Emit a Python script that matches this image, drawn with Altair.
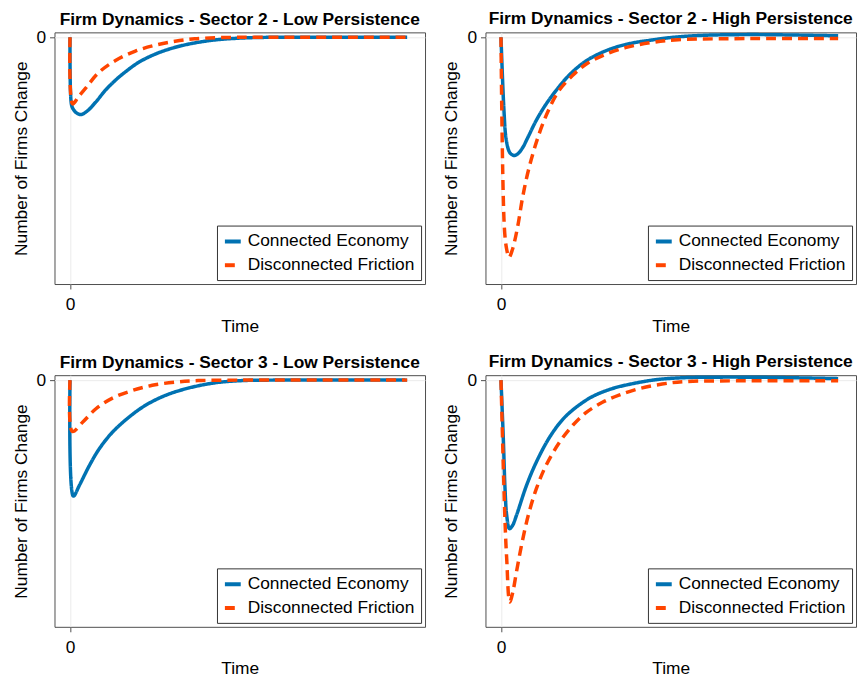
import altair as alt
import pandas as pd

SERIES = ["Connected Economy", "Disconnected Friction"]
COLORS = ["#0072b2", "#ff4500"]

TITLES = [
    "Firm Dynamics - Sector 2 - Low Persistence",
    "Firm Dynamics - Sector 2 - High Persistence",
    "Firm Dynamics - Sector 3 - Low Persistence",
    "Firm Dynamics - Sector 3 - High Persistence",
]

# Panel 1: Sector 2, low persistence
P1_CONN_T = [0, 0.4, 0.9, 1.8, 3.2, 5.0, 7.6, 10.6, 13.0, 15.6, 20.3, 25.3, 30.3, 35, 40, 45, 55, 70, 100]
P1_CONN_V = [0, -0.27, -0.29, -0.305, -0.313, -0.300, -0.263, -0.213, -0.180, -0.149, -0.102, -0.068,
             -0.044, -0.028, -0.016, -0.008, -0.001, 0, 0]
P1_DISC_T = [0, 0.8, 2.5, 4.7, 8.5, 13.5, 19.4, 25.3, 31.2, 37, 45, 55, 100]
P1_DISC_V = [0, -0.27, -0.241, -0.205, -0.143, -0.094, -0.056, -0.032, -0.016, -0.006, -0.001, 0, 0]

# Panel 2: Sector 2, high persistence
P2_CONN_T = [0, 0.9, 1.5, 2.4, 3.0, 3.9, 5.0, 6.4, 8.0, 10.3, 12.7, 15.2, 20.1, 25.1, 30, 34.8, 39.8,
             44.7, 49.6, 54.6, 62, 75, 88, 100]
P2_CONN_V = [0, -0.30, -0.41, -0.462, -0.473, -0.479, -0.472, -0.448, -0.405, -0.341, -0.285, -0.236,
             -0.155, -0.097, -0.061, -0.037, -0.021, -0.011, -0.002, 0.004, 0.009, 0.011, 0.009, 0.006]
P2_DISC_T = [0, 1.0, 1.7, 2.4, 3.4, 4.9, 6.4, 8.3, 11.2, 14.2, 17.1, 21.2, 25.1, 30, 36.9, 44.7, 52.5,
             65, 80, 100]
P2_DISC_V = [0, -0.77, -0.86, -0.892, -0.860, -0.771, -0.650, -0.530, -0.396, -0.292, -0.218, -0.155,
             -0.110, -0.075, -0.042, -0.021, -0.010, -0.006, -0.005, -0.005]

# Panel 3: Sector 3, low persistence
P3_CONN_T = [0, 1.0, 2.8, 5.8, 8.7, 12.6, 17.5, 22.4, 28.3, 35.2, 43, 51, 60, 100]
P3_CONN_V = [0, -0.470, -0.426, -0.345, -0.278, -0.211, -0.150, -0.102, -0.062, -0.032, -0.011,
             -0.002, 0, 0]
P3_DISC_T = [0, 0.7, 3.8, 7.7, 12.6, 18.5, 24.4, 31.3, 38, 50, 100]
P3_DISC_V = [0, -0.208, -0.170, -0.116, -0.073, -0.042, -0.021, -0.008, -0.002, 0, 0]

# Panel 4: Sector 3, high persistence
P4_CONN_T = [0, 0.7, 1.2, 1.7, 2.5, 3.4, 4.6, 7.6, 10.5, 14.4, 18.4, 22.3, 27.2, 33.1, 39.9, 46.8, 54.6,
             65, 80, 100]
P4_CONN_V = [0, -0.238, -0.440, -0.548, -0.602, -0.590, -0.548, -0.426, -0.332, -0.232, -0.158,
             -0.110, -0.066, -0.034, -0.012, 0.003, 0.010, 0.012, 0.011, 0.006]
P4_DISC_T = [0, 1.2, 1.7, 2.6, 3.5, 4.6, 6.1, 8.1, 10.5, 13.4, 17.4, 21.3, 25.2, 30.1, 35, 40.9, 47.8,
             54.6, 70, 100]
P4_DISC_V = [0, -0.575, -0.724, -0.899, -0.860, -0.777, -0.669, -0.548, -0.440, -0.345, -0.251, -0.183,
             -0.132, -0.090, -0.061, -0.035, -0.016, -0.006, -0.003, -0.003]

PANELS = [
    (P1_CONN_T, P1_CONN_V, P1_DISC_T, P1_DISC_V),
    (P2_CONN_T, P2_CONN_V, P2_DISC_T, P2_DISC_V),
    (P3_CONN_T, P3_CONN_V, P3_DISC_T, P3_DISC_V),
    (P4_CONN_T, P4_CONN_V, P4_DISC_T, P4_DISC_V),
]

FONT = "Liberation Sans"
FS = 17.5


def make_panel(title, ct, cv, dt, dv):
    rows = []
    for t, v in zip(ct, cv):
        rows.append({"t": t, "v": v, "series": SERIES[0], "k": 0})
    for t, v in zip(dt, dv):
        rows.append({"t": t, "v": v, "series": SERIES[1], "k": 1})
    df = pd.DataFrame(rows)
    leg = alt.Legend(
        title=None, orient="bottom-right", offset=4, padding=6, rowPadding=5,
        strokeColor="#333333", fillColor="white", labelFontSize=FS, labelFont=FONT,
        labelColor="black", symbolType="stroke", symbolSize=256, symbolStrokeWidth=4,
        labelOffset=5, cornerRadius=0, labelLimit=0,
    )
    return alt.Chart(df).mark_line(strokeWidth=3.5, interpolate="catmull-rom").encode(
        x=alt.X("t:Q",
                scale=alt.Scale(domain=[-4.6, 105.3], nice=False, zero=False),
                axis=alt.Axis(values=[0], title="Time", labelPadding=7, titlePadding=4)),
        y=alt.Y("v:Q",
                scale=alt.Scale(domain=[-1.0, 0.02], nice=False, zero=False),
                axis=alt.Axis(values=[0], title="Number of Firms Change", labelPadding=4,
                              titlePadding=6)),
        color=alt.Color("series:N", scale=alt.Scale(domain=SERIES, range=COLORS), legend=leg),
        strokeDash=alt.StrokeDash("series:N",
                                  scale=alt.Scale(domain=SERIES, range=[[1, 0], [10, 6]]),
                                  legend=leg),
        detail="series:N",
        order="k:Q",
    ).properties(
        width=374, height=254,
        title=alt.TitleParams(title, fontSize=FS, fontWeight="bold", font=FONT, anchor="middle",
                              frame="group", baseline="bottom", offset=-18, color="black"),
    )


charts = [make_panel(TITLES[i], *PANELS[i]) for i in range(4)]

row1 = alt.hconcat(charts[0], charts[1], spacing=16).resolve_scale(
    color="independent", strokeDash="independent").resolve_legend(
    color="independent", strokeDash="independent")
row2 = alt.hconcat(charts[2], charts[3], spacing=16).resolve_scale(
    color="independent", strokeDash="independent").resolve_legend(
    color="independent", strokeDash="independent")

chart = alt.vconcat(row1, row2, spacing=16).resolve_scale(
    color="independent", strokeDash="independent").resolve_legend(
    color="independent", strokeDash="independent"
).properties(
    padding={"left": 11, "top": 6.5, "right": 0, "bottom": 0},
    background="white",
).configure_view(
    stroke="#4d4d4d", strokeWidth=1,
).configure_axis(
    labelFont=FONT, titleFont=FONT, labelFontSize=FS, titleFontSize=FS,
    titleFontWeight="normal", labelColor="black", titleColor="black",
    tickSize=5, tickColor="#4d4d4d", domain=False, grid=True,
    gridColor="#ebebeb", gridWidth=1,
)

chart.save("out.html", embed_options={"renderer": "svg", "actions": False})
